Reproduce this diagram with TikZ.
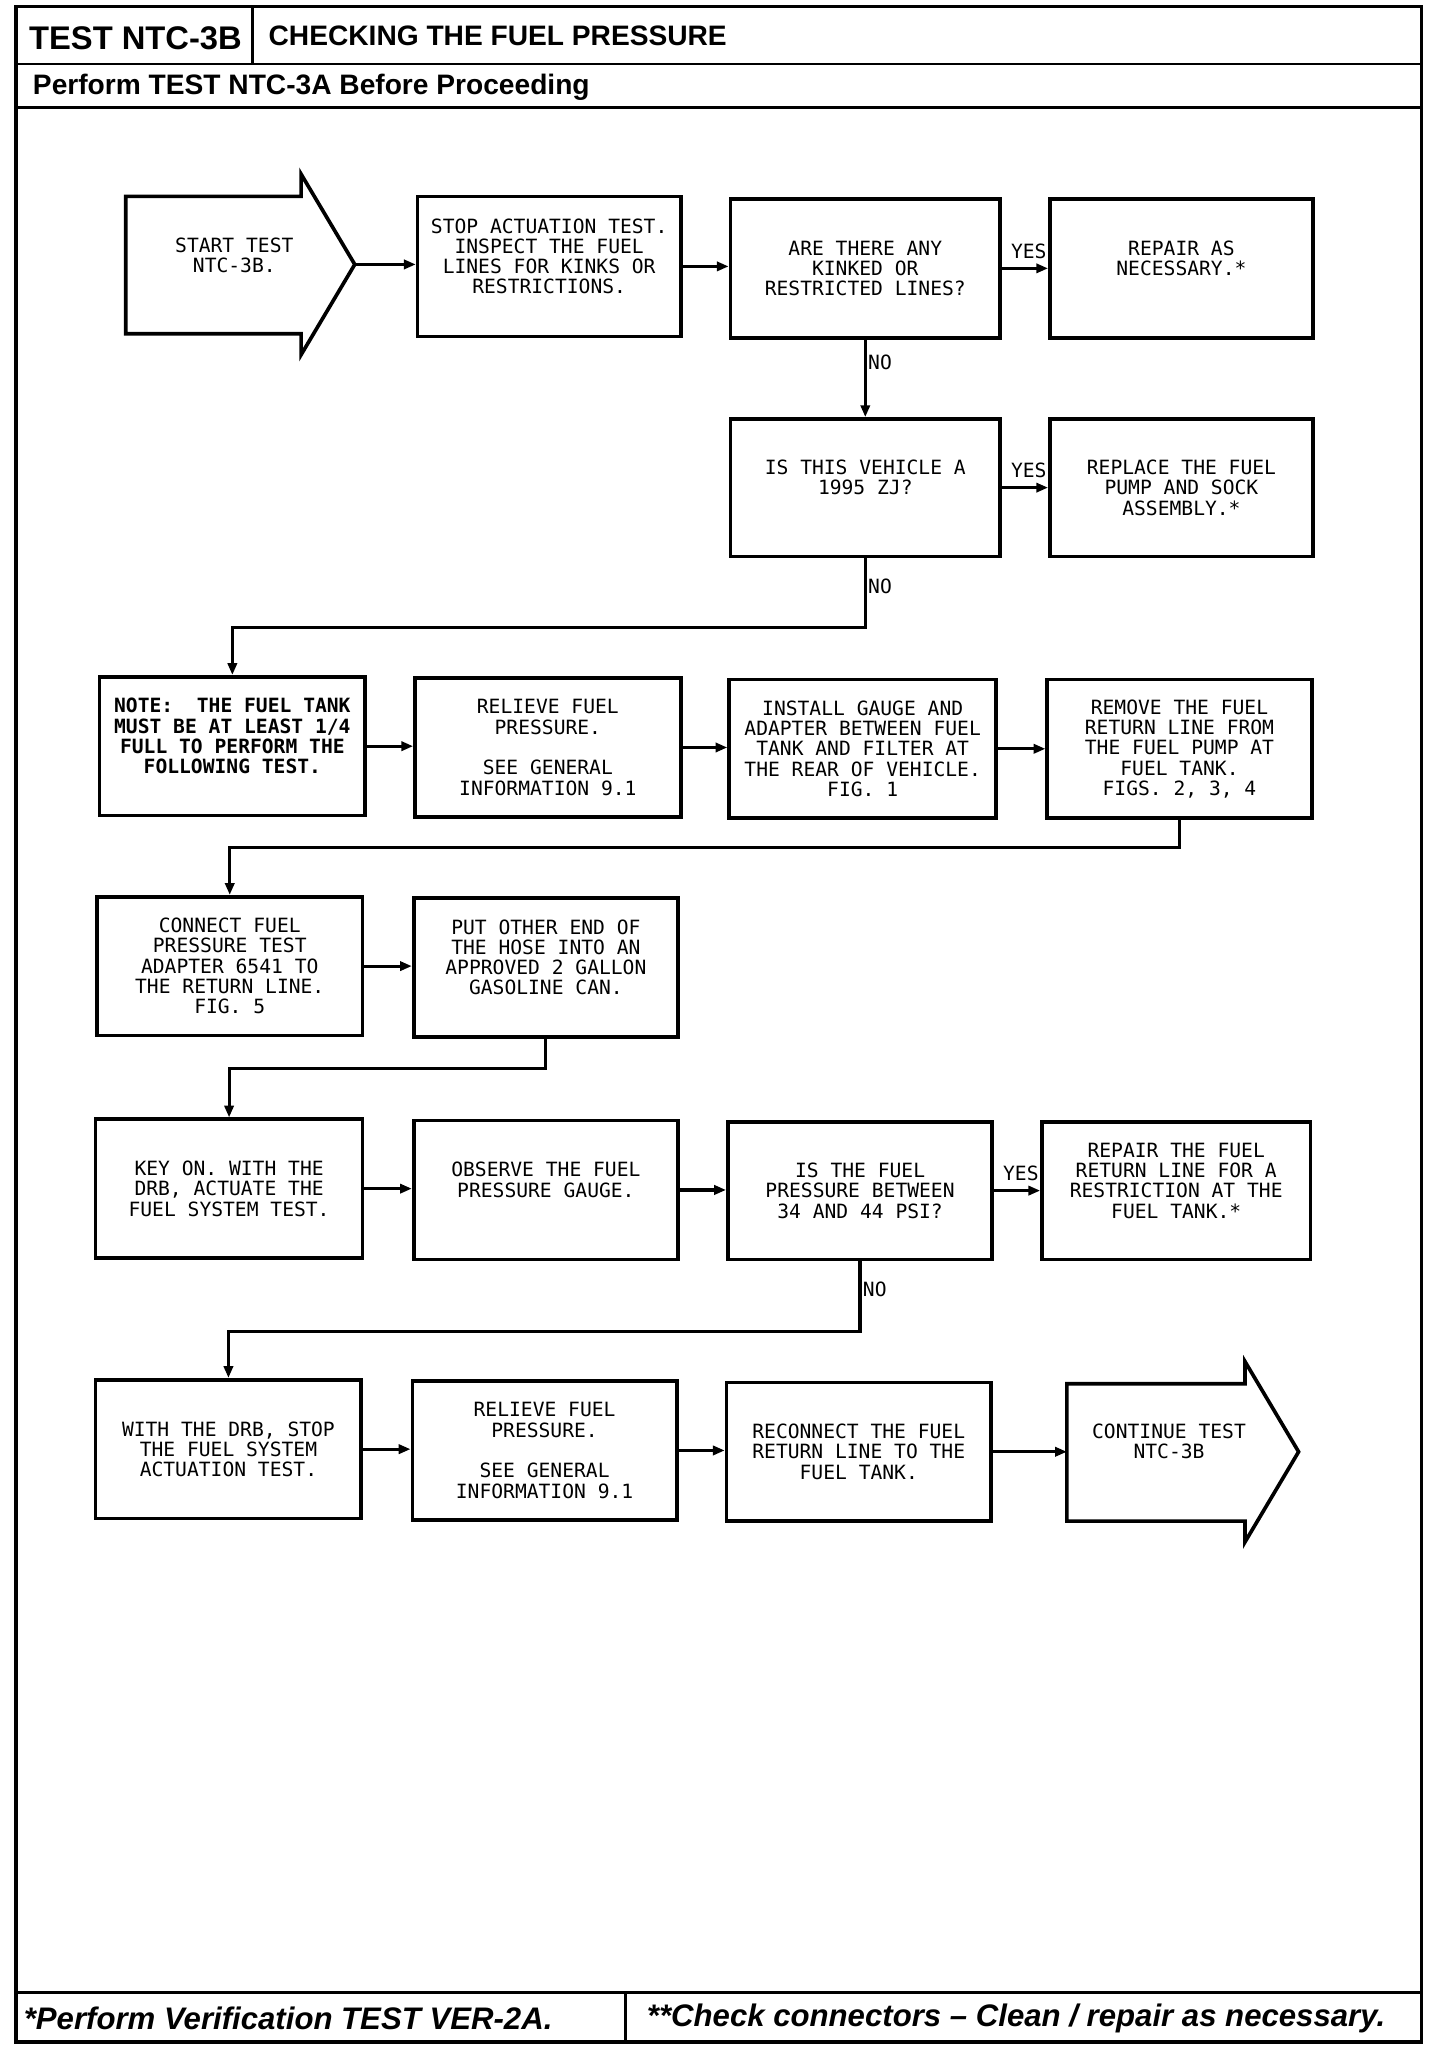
\documentclass[tikz,border=0pt]{standalone}
\usepackage{fontspec}
\setmainfont{Liberation Sans}
\newfontfamily\plotfont{DejaVu Sans Mono}
\usetikzlibrary{arrows.meta}
\begin{document}
\begin{tikzpicture}[x=1pt,y=-1pt,
  box/.style={draw, line width=2.8pt, inner sep=0pt, align=center,
    minimum width=203pt, minimum height=106pt,
    font=\plotfont\fontsize{15}{15.5}\selectfont},
  txt/.style={inner sep=0pt, align=center, font=\plotfont\fontsize{15}{15.5}\selectfont},
  flow/.style={line width=2.4pt, -{Triangle[length=9pt,width=7pt]}},
  lbl/.style={font=\plotfont\fontsize{15}{15.5}\selectfont, inner sep=1pt},
  yes/.style={lbl, pos=1, anchor=south east, yshift=5pt, xshift=1pt},
  frame/.style={line width=2.8pt},
  head/.style={inner sep=0pt, font=\bfseries\fontsize{21.5}{24}\selectfont},
  foot/.style={inner sep=0pt, font=\bfseries\itshape\fontsize{23.8}{26}\selectfont},
  ]
\useasboundingbox (0,0) rectangle (1100,1566);

% ---------- frame ----------
\draw[frame] (12,5) rectangle (1086,1560);
\draw[line width=2pt] (12,49) -- (1086,49);
\draw[line width=2pt] (193,6) -- (193,49);
\draw[frame] (12,82) -- (1086,82);
\draw[frame] (12,1522) -- (1086,1522);
\draw[line width=2pt] (478,1522) -- (478,1560);

\node[inner sep=0pt, font=\bfseries\fontsize{25}{28}\selectfont] (tname) at (103.5,29) {TEST NTC-3B};
\node[head, anchor=west] (ttitle) at (205,27) {CHECKING THE FUEL PRESSURE};
\node[head, anchor=west] (tpre) at (25,67) {Perform TEST NTC-3A Before Proceeding};
\node[foot, anchor=west] (fl) at (18,1542) {*Perform Verification TEST VER-2A.};
\node[foot, anchor=west] (fr) at (494,1542) {**Check connectors -- Clean / repair as necessary.};

% ---------- start arrow ----------
\draw[line width=2.8pt, line join=miter] (96,150) -- (230,150) -- (230,133) -- (271,202)
  -- (230,271) -- (230,255) -- (96,255) -- cycle;
\coordinate (starttip) at (271,202);
\node[txt] (start) at (179,195) {START TEST\\NTC-3B.};

% ---------- row 1 ----------
\node[box, minimum width=201pt, minimum height=107pt] (b2) at (419.5,203.5)
  {STOP ACTUATION TEST.\\INSPECT THE FUEL\\LINES FOR KINKS OR\\RESTRICTIONS.\\\mbox{}};
\node[box, minimum width=206pt] (b3) at (661,205)
  {ARE THERE ANY\\KINKED OR\\RESTRICTED LINES?};
\node[box, minimum width=201pt] (b4) at (902.5,205)
  {REPAIR AS\\NECESSARY.*\\\mbox{}};

% ---------- row 2 ----------
\node[box, minimum width=206pt, minimum height=105pt] (b5) at (661,372.5)
  {IS THIS VEHICLE A\\1995 ZJ?\\\mbox{}};
\node[box, minimum width=201pt, minimum height=105pt] (b6) at (902.5,372.5)
  {REPLACE THE FUEL\\PUMP AND SOCK\\ASSEMBLY.*};

% ---------- row 3 ----------
\node[box, font=\plotfont\bfseries\fontsize{15}{15.5}\selectfont] (b7) at (177.5,570)
  {NOTE:\ \ THE FUEL TANK\\MUST BE AT LEAST 1/4\\FULL TO PERFORM THE\\FOLLOWING TEST.\\\mbox{}};
\node[box] (b8) at (418.5,571)
  {RELIEVE FUEL\\PRESSURE.\\[15.5pt]SEE GENERAL\\INFORMATION 9.1};
\node[box, minimum width=204pt] (b9) at (659,572)
  {INSTALL GAUGE AND\\ADAPTER BETWEEN FUEL\\TANK AND FILTER AT\\THE REAR OF VEHICLE.\\FIG. 1};
\node[box, minimum width=202pt] (b10) at (901,572)
  {REMOVE THE FUEL\\RETURN LINE FROM\\THE FUEL PUMP AT\\FUEL TANK.\\FIGS. 2, 3, 4};

% ---------- row 4 ----------
\node[box] (b11) at (175.5,738)
  {CONNECT FUEL\\PRESSURE TEST\\ADAPTER 6541 TO\\THE RETURN LINE.\\FIG. 5};
\node[box, minimum width=202pt] (b12) at (417,739)
  {PUT OTHER END OF\\THE HOSE INTO AN\\APPROVED 2 GALLON\\GASOLINE CAN.\\\mbox{}};

% ---------- row 5 ----------
\node[box, minimum width=204pt] (b13) at (175,908)
  {KEY ON. WITH THE\\DRB, ACTUATE THE\\FUEL SYSTEM TEST.};
\node[box, minimum width=202pt] (b14) at (417,909)
  {OBSERVE THE FUEL\\PRESSURE GAUGE.\\\mbox{}};
\node[box, minimum width=202pt, minimum height=105pt] (b15) at (657,909.5)
  {IS THE FUEL\\PRESSURE BETWEEN\\34 AND 44 PSI?};
\node[box, minimum width=205pt, minimum height=105pt] (b16) at (898.5,909.5)
  {REPAIR THE FUEL\\RETURN LINE FOR A\\RESTRICTION AT THE\\FUEL TANK.*\\\mbox{}};

% ---------- row 6 ----------
\node[box] (b17) at (174.5,1107)
  {WITH THE DRB, STOP\\THE FUEL SYSTEM\\ACTUATION TEST.};
\node[box, minimum width=202pt] (b18) at (416,1108)
  {RELIEVE FUEL\\PRESSURE.\\[15.5pt]SEE GENERAL\\INFORMATION 9.1};
\node[box, minimum width=202pt] (b19) at (656,1109)
  {RECONNECT THE FUEL\\RETURN LINE TO THE\\FUEL TANK.};

% ---------- continue arrow ----------
\draw[line width=2.8pt, line join=miter] (815,1057) -- (951,1057) -- (951,1040) -- (992,1109)
  -- (951,1178) -- (951,1162) -- (815,1162) -- cycle;
\coordinate (contin) at (815,1109);
\node[txt] (cont) at (893,1101) {CONTINUE TEST\\NTC-3B};

% ---------- connectors ----------
\draw[flow] (starttip) -- (starttip -| b2.west);
\draw[flow] (b2.east) -- (b2.east -| b3.west);
\draw[flow] (b3.east) -- (b3.east -| b4.west) node[yes] (y1) {YES};
\draw[flow] (b3.south) -- (b3.south |- b5.north) node[lbl, pos=0.3, right] (n1) {NO};
\draw[flow] (b5.east) -- (b5.east -| b6.west) node[yes] (y2) {YES};
\draw[flow] (b5.south) -- ++(0,53) node[lbl, pos=0.4, right] (n2) {NO} -| (b7.north);

\draw[flow] (b7.east) -- (b7.east -| b8.west);
\draw[flow] (b8.east) -- (b8.east -| b9.west);
\draw[flow] (b9.east) -- (b9.east -| b10.west);
\draw[flow] (b10.south) -- ++(0,21) -| (b11.north);

\draw[flow] (b11.east) -- (b11.east -| b12.west);
\draw[flow] (b12.south) -- ++(0,23) -| (b13.north);

\draw[flow] (b13.east) -- (b13.east -| b14.west);
\draw[flow] (b14.east) -- (b14.east -| b15.west);
\draw[flow] (b15.east) -- (b15.east -| b16.west) node[yes] (y3) {YES};
\draw[flow] (b15.south) -- ++(0,54) node[lbl, pos=0.4, right] (n3) {NO} -| (b17.north);

\draw[flow] (b17.east) -- (b17.east -| b18.west);
\draw[flow] (b18.east) -- (b18.east -| b19.west);
\draw[flow] (b19.east) -- (b19.east -| contin);
\end{tikzpicture}
\end{document}
